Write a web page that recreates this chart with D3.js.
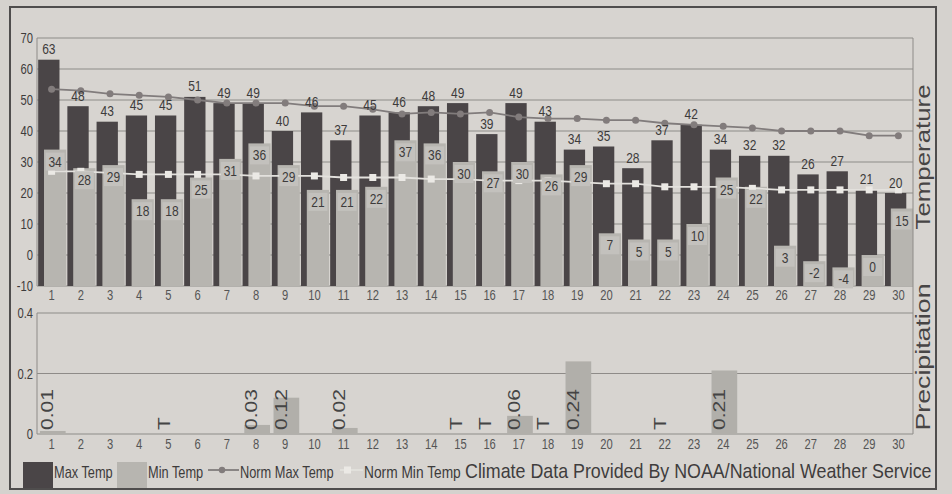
<!DOCTYPE html>
<html>
<head>
<meta charset="utf-8">
<script src="https://cdn.jsdelivr.net/npm/d3@7/dist/d3.min.js"></script>
<style>
html, body { margin: 0; padding: 0; background: #d5d2ce; }
svg { display: block; }
text { font-family: "Liberation Sans", Arial, sans-serif; fill: #3d3b3b; }
</style>
</head>
<body>
<svg id="chart" width="952" height="494"></svg>
<script>
// Daily climate chart: max/min temperature bars with normals, precipitation below.
var days = ['1','2','3','4','5','6','7','8','9','10','11','12','13','14','15',
            '16','17','18','19','20','21','22','23','24','25','26','27','28','29','30'];
var maxTemp = [63,48,43,45,45,51,49,49,40,46,37,45,46,48,49,39,49,43,34,35,28,37,42,34,32,32,26,27,21,20];
var minTemp = [34,28,29,18,18,25,31,36,29,21,21,22,37,36,30,27,30,26,29,7,5,5,10,25,22,3,-2,-4,0,15];
var normMax = [53.5,53,52,51.5,51,50,49,49,49,48,48,47,45.5,46,45.5,46,44.5,44,44,43.5,43.5,42.5,42,41.5,41,40,40,40,38.5,38.5];
var normMin = [27,27,26.5,26,26,26,26,25.5,25.5,25.5,25,25,25,24.5,24.5,24,24,24,23.5,23,23,22,22,22,21.5,21,21,21,21,21];
// 'T' = trace amount (drawn as zero, labelled T)
var precip = [0.01,0,0,0,'T',0,0,0.03,0.12,0,0.02,0,0,0,'T','T',0.06,'T',0.24,0,0,'T',0,0.21,0,0,0,0,0,0];
var tempTicks = [-10,0,10,20,30,40,50,60,70];
var precipTicks = [0,0.2,0.4];
var legendItems = ['Max Temp','Min Temp','Norm Max Temp','Norm Min Temp'];
var credit = 'Climate Data Provided By NOAA/National Weather Service';

var svg = d3.select('#chart');
var DARK = '#4a4547', LIGHT = '#b7b5b0', GRID = '#8e8b88';
var NARROW = 0.8; // the print uses a condensed face; squeeze regular glyphs instead

var x = d3.scaleBand().domain(days).range([37, 913]).padding(0);
var bw = x.bandwidth();
var yT = d3.scaleLinear().domain([-10, 70]).range([286, 38]);
var yP = d3.scaleLinear().domain([0, 0.4]).range([434, 313]);
var pval = function (v) { return v === 'T' ? 0 : v; };

// place a condensed text at (px, py)
function narrowAt(fx, fy, k) {
  return function (d, i) { return 'translate(' + fx(d, i) + ',' + fy(d, i) + ') scale(' + (k || NARROW) + ',1)'; };
}

// outer frame
svg.append('rect').attr('x', 10).attr('y', 7).attr('width', 926).attr('height', 482)
  .attr('fill', '#d7d4d0').attr('stroke', '#4f4d4d').attr('stroke-width', 2);

// ---- temperature panel ----
var gT = svg.append('g');
gT.selectAll('line.grid').data(tempTicks).join('line').attr('class', 'grid')
  .attr('x1', 37).attr('x2', 913).attr('y1', yT).attr('y2', yT)
  .attr('stroke', GRID).attr('stroke-width', 1.1);
gT.append('line').attr('x1', 37).attr('x2', 37).attr('y1', yT(70)).attr('y2', yT(-10)).attr('stroke', GRID);
svg.append('line').attr('x1', 913).attr('x2', 913).attr('y1', yT(70)).attr('y2', yP(0)).attr('stroke', GRID);

gT.selectAll('text.ytick').data(tempTicks).join('text').attr('class', 'ytick')
  .attr('transform', narrowAt(function () { return 33; }, function (d) { return yT(d) + 5; }))
  .attr('text-anchor', 'end').style('font-size', '14px').text(function (d) { return d; });

gT.selectAll('rect.max').data(maxTemp).join('rect').attr('class', 'max')
  .attr('x', function (d, i) { return x(days[i]) + bw * 0.04; })
  .attr('width', bw * 0.73)
  .attr('y', function (d) { return yT(d); })
  .attr('height', function (d) { return yT(-10) - yT(d); })
  .attr('fill', DARK);
gT.selectAll('rect.min').data(minTemp).join('rect').attr('class', 'min')
  .attr('x', function (d, i) { return x(days[i]) + bw * 0.24; })
  .attr('width', bw * 0.76)
  .attr('y', function (d) { return yT(d); })
  .attr('height', function (d) { return yT(-10) - yT(d); })
  .attr('fill', LIGHT);

// normals
var cx = function (d, i) { return x(days[i]) + bw / 2; };
var lineOf = d3.line().x(cx).y(function (d) { return yT(d); });
gT.append('path').attr('d', lineOf(normMax)).attr('fill', 'none').attr('stroke', '#817c7c').attr('stroke-width', 1.8);
gT.selectAll('circle.nmax').data(normMax).join('circle').attr('class', 'nmax')
  .attr('cx', cx).attr('cy', function (d) { return yT(d); }).attr('r', 3.5).attr('fill', '#827c7c');
gT.append('path').attr('d', lineOf(normMin)).attr('fill', 'none').attr('stroke', '#e3e1dd').attr('stroke-width', 1.8);
gT.selectAll('rect.nmin').data(normMin).join('rect').attr('class', 'nmin')
  .attr('x', function (d, i) { return cx(d, i) - 3.5; }).attr('y', function (d) { return yT(d) - 3.5; })
  .attr('width', 7).attr('height', 7).attr('fill', '#ebe9e5');

// value labels
gT.selectAll('text.maxlab').data(maxTemp).join('text').attr('class', 'maxlab')
  .attr('transform', narrowAt(function (d, i) { return x(days[i]) + bw * 0.405; },
                              function (d) { return yT(d) - 5.5; }))
  .attr('text-anchor', 'middle').style('font-size', '15px').text(function (d) { return d; });
gT.selectAll('rect.minbox').data(minTemp).join('rect').attr('class', 'minbox')
  .attr('x', function (d, i) { return x(days[i]) + bw * 0.62 - 9.5; })
  .attr('y', function (d) { return yT(d) + 3; })
  .attr('width', 19).attr('height', 18).attr('fill', '#c3c1bd');
gT.selectAll('text.minlab').data(minTemp).join('text').attr('class', 'minlab')
  .attr('transform', narrowAt(function (d, i) { return x(days[i]) + bw * 0.62; },
                              function (d) { return yT(d) + 17; }))
  .attr('text-anchor', 'middle').style('font-size', '15px').text(function (d) { return d; });

gT.selectAll('text.xtick').data(days).join('text').attr('class', 'xtick')
  .attr('transform', narrowAt(function (d) { return x(d) + bw / 2; }, function () { return 300; }))
  .attr('text-anchor', 'middle').style('font-size', '14px').style('fill', '#555').text(function (d) { return d; });

// ---- precipitation panel ----
var gP = svg.append('g');
gP.selectAll('line.grid').data(precipTicks).join('line').attr('class', 'grid')
  .attr('x1', 37).attr('x2', 913).attr('y1', yP).attr('y2', yP)
  .attr('stroke', GRID).attr('stroke-width', 1.1);
gP.append('line').attr('x1', 37).attr('x2', 37).attr('y1', yP(0.4)).attr('y2', yP(0)).attr('stroke', GRID);
gP.selectAll('text.ytick').data(precipTicks).join('text').attr('class', 'ytick')
  .attr('transform', narrowAt(function () { return 33; }, function (d) { return yP(d) + 5; }))
  .attr('text-anchor', 'end').style('font-size', '14px').text(function (d) { return d; });
gP.selectAll('rect.pr').data(precip).join('rect').attr('class', 'pr')
  .attr('x', function (d, i) { return x(days[i]) + bw * 0.1; })
  .attr('width', bw * 0.88)
  .attr('y', function (d) { return yP(pval(d)); })
  .attr('height', function (d) { return yP(0) - yP(pval(d)); })
  .attr('fill', '#b1afaa');
gP.selectAll('text.plab').data(precip.map(function (d, i) { return { v: d, day: days[i] }; })
    .filter(function (d) { return d.v !== 0; }))
  .join('text').attr('class', 'plab')
  .attr('transform', function (d) { return 'translate(' + (x(d.day) + 16) + ',430) scale(0.75,1) rotate(-90)'; })
  .style('font-size', '21px').style('fill', '#444')
  .text(function (d) { return d.v === 'T' ? 'T' : d3.format('.2f')(d.v); });
gP.selectAll('text.xtick').data(days).join('text').attr('class', 'xtick')
  .attr('transform', narrowAt(function (d) { return x(d) + bw / 2; }, function () { return 449; }))
  .attr('text-anchor', 'middle').style('font-size', '14px').style('fill', '#555').text(function (d) { return d; });

// axis titles
svg.append('text').attr('text-anchor', 'middle')
  .attr('transform', 'translate(930,157) scale(0.8,1) rotate(-90)')
  .attr('textLength', 145).attr('lengthAdjust', 'spacingAndGlyphs')
  .style('font-size', '25px').style('fill', '#474545').text('Temperature');
svg.append('text').attr('text-anchor', 'middle')
  .attr('transform', 'translate(930,357) scale(0.8,1) rotate(-90)')
  .attr('textLength', 147).attr('lengthAdjust', 'spacingAndGlyphs')
  .style('font-size', '25px').style('fill', '#474545').text('Precipitation');

// ---- legend ----
var gL = svg.append('g');
gL.append('rect').attr('x', 23).attr('y', 462).attr('width', 30).attr('height', 26).attr('fill', DARK);
gL.append('rect').attr('x', 117).attr('y', 462).attr('width', 30).attr('height', 26).attr('fill', LIGHT);
gL.append('line').attr('x1', 208).attr('x2', 239).attr('y1', 470).attr('y2', 470).attr('stroke', '#817c7c').attr('stroke-width', 1.8);
gL.append('circle').attr('cx', 222).attr('cy', 470).attr('r', 3.2).attr('fill', '#827c7c');
gL.append('line').attr('x1', 340).attr('x2', 363).attr('y1', 470).attr('y2', 470).attr('stroke', '#e3e1dd').attr('stroke-width', 1.8);
gL.append('rect').attr('x', 344).attr('y', 466.5).attr('width', 7).attr('height', 7).attr('fill', '#ebe9e5');
var legX = [54, 148, 240, 364];
gL.selectAll('text.leg').data(legendItems).join('text').attr('class', 'leg')
  .attr('transform', narrowAt(function (d, i) { return legX[i]; }, function () { return 478; },
                              function () { return 0; }))
  .style('font-size', '16px').text(function (d) { return d; });
// last item is set slightly wider in the print
gL.selectAll('text.leg').attr('transform', function (d, i) {
  return 'translate(' + legX[i] + ',478) scale(' + (i === 3 ? 0.86 : NARROW) + ',1)';
});
var cred = gL.append('text').style('font-size', '20px').style('fill', '#3f3d3d').text(credit);
var credW = cred.node().getComputedTextLength();
cred.attr('transform', 'translate(465,478) scale(' + (467 / credW) + ',1)');
</script>
</body>
</html>
